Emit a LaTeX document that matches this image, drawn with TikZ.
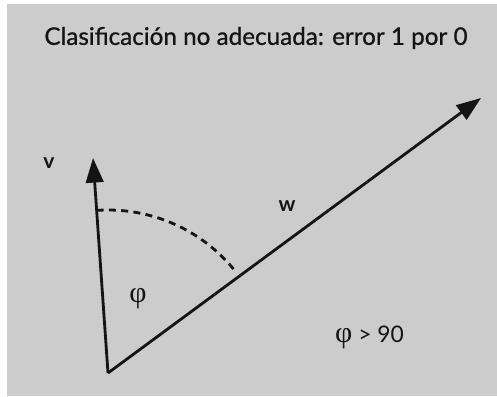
\documentclass[tikz,border=0pt]{standalone}
\usepackage{fontspec}
\setmainfont{Lato}
\newfontfamily\titlefont[FakeBold=0.8]{Lato}
\newfontfamily\greekfont{Liberation Serif}
\usetikzlibrary{arrows.meta, calc}
\definecolor{bggray}{RGB}{204,204,204}
\definecolor{inkcolor}{RGB}{20,20,20}
\tikzset{
  vec/.style    = {-{Triangle[length=14pt, width=10pt]}, line width=1.6pt, color=inkcolor},
  angarc/.style = {dashed, dash pattern=on 4pt off 3pt, line width=1.6pt, color=inkcolor},
  lbl/.style    = {font=\fontsize{12}{14}\selectfont\bfseries, text=inkcolor},
  txt/.style    = {font=\fontsize{13}{15}\selectfont, text=inkcolor},
}

\begin{document}
\begin{tikzpicture}[x=0.02cm, y=0.02cm]
  \useasboundingbox (0,0) rectangle (497,396);
  \fill[bggray] (7,0) rectangle (497,392);
  \node[txt, font=\fontsize{13.8}{16}\titlefont] (title) at (256,358) {Clasificación no adecuada: error 1 por 0};
  \coordinate (o) at (108,23);
  \coordinate (vtip) at (93,238);
  \coordinate (wtip) at (481,298);
  \draw[vec] (o) -- (vtip);
  \draw[vec] (o) -- (wtip);
  \draw[angarc] ($(o)+(94:163)$) arc[start angle=94, end angle=38.5, radius=3.26cm];
  \node[lbl] (v) at (49,233) {v};
  \node[lbl] (w) at (287,190) {w};
  \node[txt, font=\fontsize{17}{19}\greekfont] (phi) at (138,97) {φ};
  \node[txt, anchor=west] (cond) at (329,59) {{\fontsize{17}{19}\greekfont φ} \textgreater{} 90};
\end{tikzpicture}
\end{document}
